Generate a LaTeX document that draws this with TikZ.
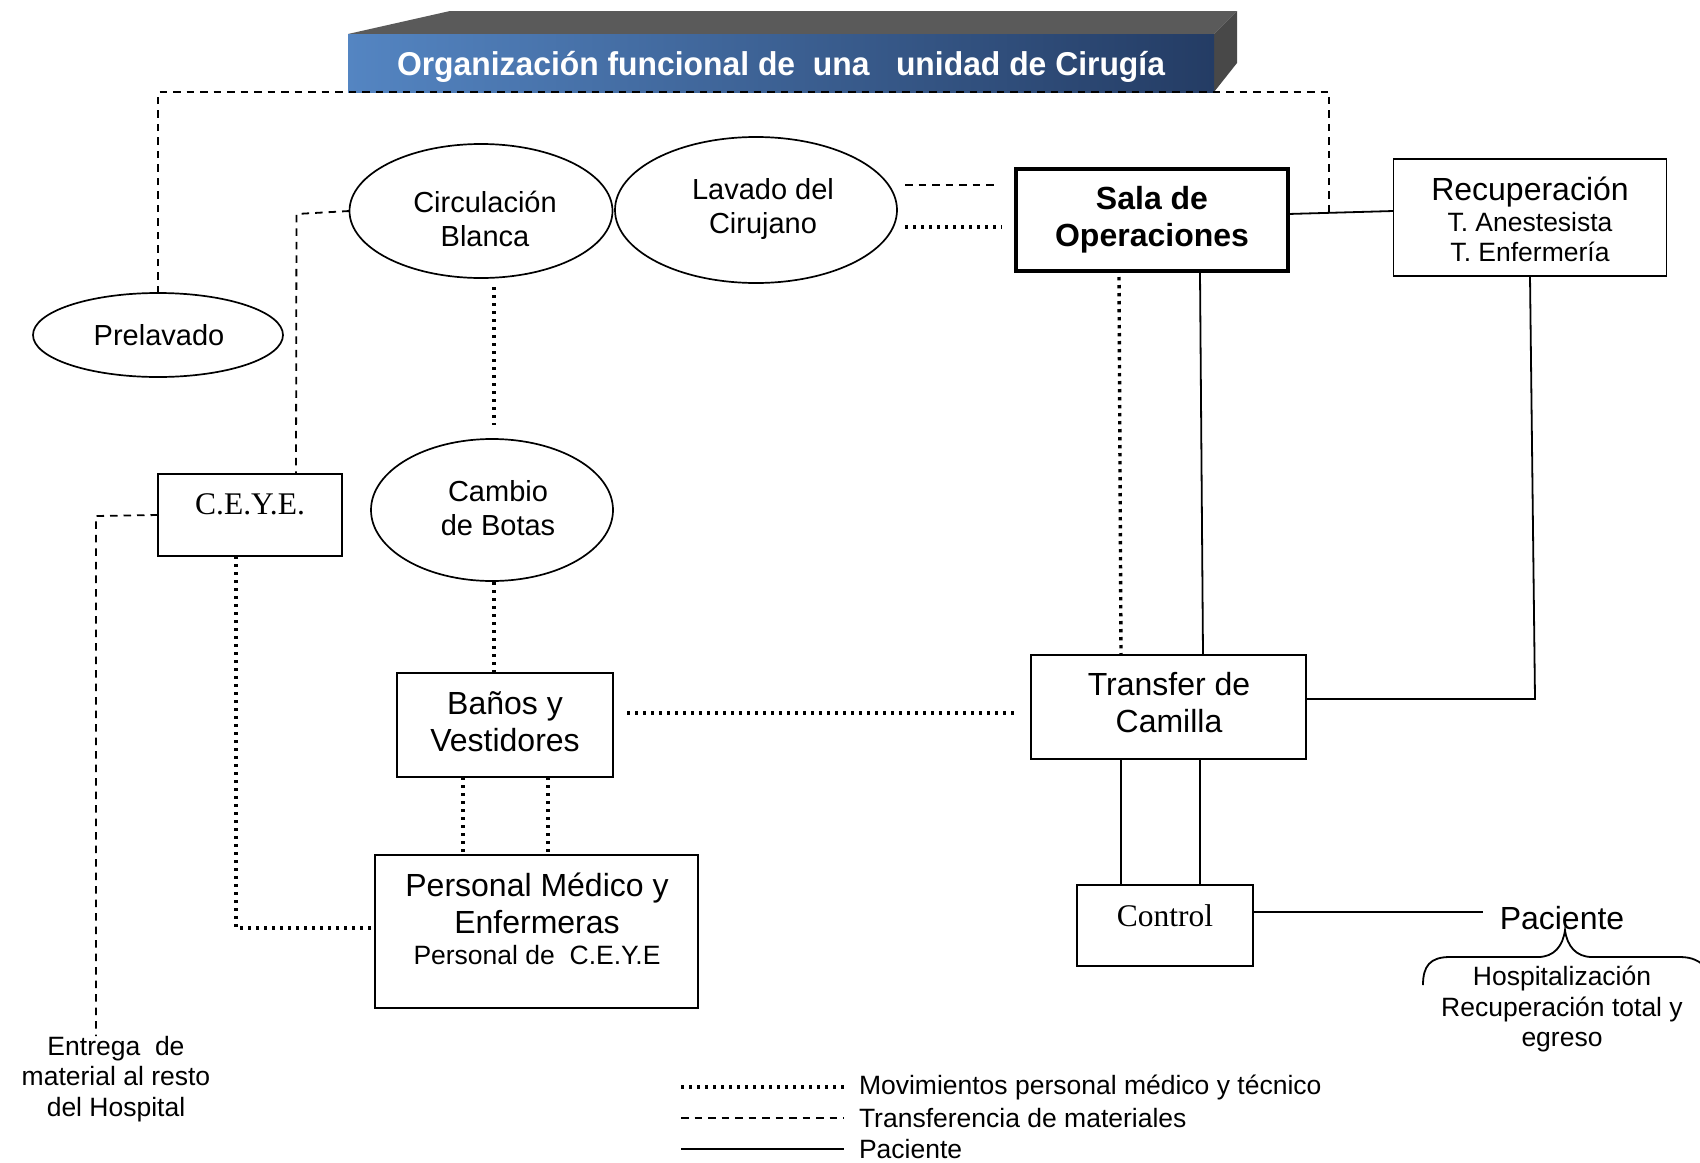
\documentclass[tikz,border=0pt]{standalone}
\usepackage{fontspec}
\setmainfont{Liberation Sans}
\newfontfamily\seriffont{Liberation Serif}
\usetikzlibrary{shapes.geometric,calc}
\definecolor{tbl}{RGB}{84,133,194}
\definecolor{tbd}{RGB}{36,60,100}
\definecolor{tgray}{RGB}{90,90,90}
\definecolor{tgrayd}{RGB}{72,72,72}
\begin{document}
\begin{tikzpicture}[x=1pt,y=-1pt,
  every node/.style={inner sep=0pt, outer sep=0pt},
  oval/.style={ellipse, draw, line width=1.7pt, align=center},
  box/.style={rectangle, draw, line width=1.8pt, align=center},
  dotline/.style={line width=3.4pt, dash pattern=on 3.4pt off 4.6pt},
  dashline/.style={line width=1.8pt, dash pattern=on 7.5pt off 6pt},
  solidline/.style={line width=1.8pt},
  fA/.style={font=\fontsize{29}{34}\selectfont},
  fB/.style={font=\fontsize{32}{37}\selectfont},
  fC/.style={font=\fontsize{26.5}{30.5}\selectfont},
  fS/.style={font=\fontsize{31.5}{36}\selectfont\seriffont},
]
\useasboundingbox (0,0) rectangle (1700,1162);

% ---- title block
\fill[tgray] (348,34) -- (450,11) -- (1237,11) -- (1214,34) -- cycle;
\fill[tgrayd] (1214,34) -- (1237,11) -- (1237,63) -- (1214,92) -- cycle;
\node[rectangle, left color=tbl, right color=tbd, minimum width=866, minimum height=58] (title) at (781,63) {};
\node[text=white] (titletext) at (781,67)
  {\scalebox{0.965}[1]{\fontsize{33}{40}\selectfont\bfseries Organización funcional de\ \ una\ \ \ unidad de Cirugía}};

% ---- nodes
\node[oval, minimum width=250, minimum height=84] (prelavado) at (158,335) {};
\node[fA] (prelavadot) at (159,335) {Prelavado};
\node[oval, minimum width=263, minimum height=134] (circ) at (481,211) {};
\node[fA, align=center] (circt) at (485,219) {Circulación\\Blanca};
\node[oval, minimum width=282, minimum height=146] (lavado) at (756,210) {};
\node[fA, align=center] (lavadot) at (763,209) {Lavado del\\Cirujano};
\node[oval, minimum width=242, minimum height=142] (cambio) at (492,510) {};
\node[fA, align=center] (cambiot) at (498,508) {Cambio\\de Botas};
\node[box, line width=4.5pt, minimum width=272, minimum height=102, font=\fontsize{32}{37}\selectfont\bfseries] (sala) at (1152,220) {Sala de\\Operaciones};
\node[box, minimum width=273, minimum height=117] (recup) at (1530,217.5) {};
\node[fB, anchor=base] (recupa) at (1530,200.5) {Recuperación};
\node[fC, anchor=base] (recupb) at (1530,231.7) {T. Anestesista};
\node[fC, anchor=base] (recupc) at (1530,261.7) {T. Enfermería};
\node[box, fS, minimum width=184, minimum height=82, text depth=22pt] (ceye) at (250,515) {C.E.Y.E.};
\node[box, minimum width=216, minimum height=104] (banos) at (505,725) {};
\node[fB, align=center] (banost) at (505,722) {Baños y\\Vestidores};
\node[box, minimum width=323, minimum height=153] (personal) at (536.5,931.5) {};
\node[fB, anchor=base] (persa) at (537,896.5) {Personal Médico y};
\node[fB, anchor=base] (persb) at (537,933.5) {Enfermeras};
\node[fC, anchor=base] (persc) at (537,964.7) {Personal de\ \ C.E.Y.E};
\node[box, minimum width=275, minimum height=104] (transfer) at (1168.5,707) {};
\node[fB, align=center] (transfert) at (1169,703) {Transfer de\\Camilla};
\node[box, fS, minimum width=176, minimum height=81, text depth=19pt] (control) at (1165,925.5) {Control};
\node[fB] (paciente) at (1562,918) {Paciente};
\node[fC, align=center] (destino) at (1562,1009) {Hospitalización\\Recuperación total y\\egreso};
\node[fC, align=center] (entrega) at (116,1079) {Entrega\ \ de\\material al resto\\del Hospital};

% ---- connectors
\coordinate (se) at ($(sala.east)+(0,-6)$);
\coordinate (rw) at ($(recup.west)+(0,-6.5)$);
\coordinate (j1) at ($(se)!0.39!(rw)$);
\draw[solidline] (se) -- (rw);
\draw[dashline] (prelavado.north) -- (prelavado.north |- title.south) -- (j1 |- title.south) -- (j1);

\draw[dashline] (circ.west) -- ++(-53,3) -- ($(ceye.north)+(46,0)$);
\coordinate (c3) at ($(ceye.west)+(-62,1)$);
\draw[dashline] (ceye.west) -- (c3) -- (c3 |- entrega.north);

\draw[dashline] ($(lavado.east)+(8,-25)$) -- ($(sala.west)+(-19,-35)$);
\draw[dotline] ($(lavado.east)+(8,17)$) -- ($(sala.west)+(-14,7)$);

\draw[dotline] ($(sala.south)+(-33,6)$) -- ($(transfer.north)+(-47.5,0)$);
\draw[solidline] ($(sala.south)+(48,2)$) -- ($(transfer.north)+(34.5,0)$);
\coordinate (c9) at ($(recup.south)+(5,423)$);
\draw[solidline] (recup.south) -- (c9) -- (c9 -| transfer.east);

\draw[dotline] ($(banos.east)+(14,-12)$) -- ($(transfer.west)+(-17,6)$);
\coordinate (c11) at ($(cambio.south)+(2,1)$);
\draw[dotline] (c11) -- (c11 |- banos.north);
\coordinate (c12) at ($(circ.south)+(13,9)$);
\draw[dotline, shorten >=14pt] (c12) -- (c12 |- cambio.north);

\draw[dotline] ($(banos.south)+(-42,0)$) -- ($(personal.north)+(-73.5,0)$);
\draw[dotline] ($(banos.south)+(43,0)$) -- ($(personal.north)+(11.5,0)$);
\coordinate (c14) at ($(ceye.south)+(-14,0)$);
\coordinate (c14b) at ($(personal.west)+(0,-3.5)$);
\draw[dotline] (c14) -- (c14 |- c14b) -- (c14b);

\draw[solidline] ($(transfer.south)+(-47.5,0)$) -- ($(control.north)+(-44,0)$);
\draw[solidline] ($(transfer.south)+(31.5,0)$) -- ($(control.north)+(35,0)$);
\coordinate (c16) at ($(control.east)+(0,-13.5)$);
\draw[solidline, shorten >=17pt] (c16) -- (c16 -| paciente.west);

% brace under Paciente
\draw[solidline] (1423,985) .. controls (1423,966) and (1430,957) .. (1450,957) -- (1538,957)
  .. controls (1554,957) and (1563,946) .. (1565,930)
  .. controls (1567,946) and (1576,957) .. (1592,957) -- (1680,957)
  .. controls (1692,957) and (1700,961) .. (1706,968);

% ---- legend
\node[fC, anchor=west] (leg1) at (859,1087) {Movimientos personal médico y técnico};
\node[fC, anchor=west] (leg2) at (859,1118) {Transferencia de materiales};
\node[fC, anchor=west] (leg3) at (859,1149) {Paciente};
\draw[dotline] ($(leg1.west)+(-178,0)$) -- ($(leg1.west)+(-15,0)$);
\draw[dashline] ($(leg2.west)+(-178,0)$) -- ($(leg2.west)+(-15,0)$);
\draw[solidline] ($(leg3.west)+(-178,0)$) -- ($(leg3.west)+(-15,0)$);
\end{tikzpicture}
\end{document}
